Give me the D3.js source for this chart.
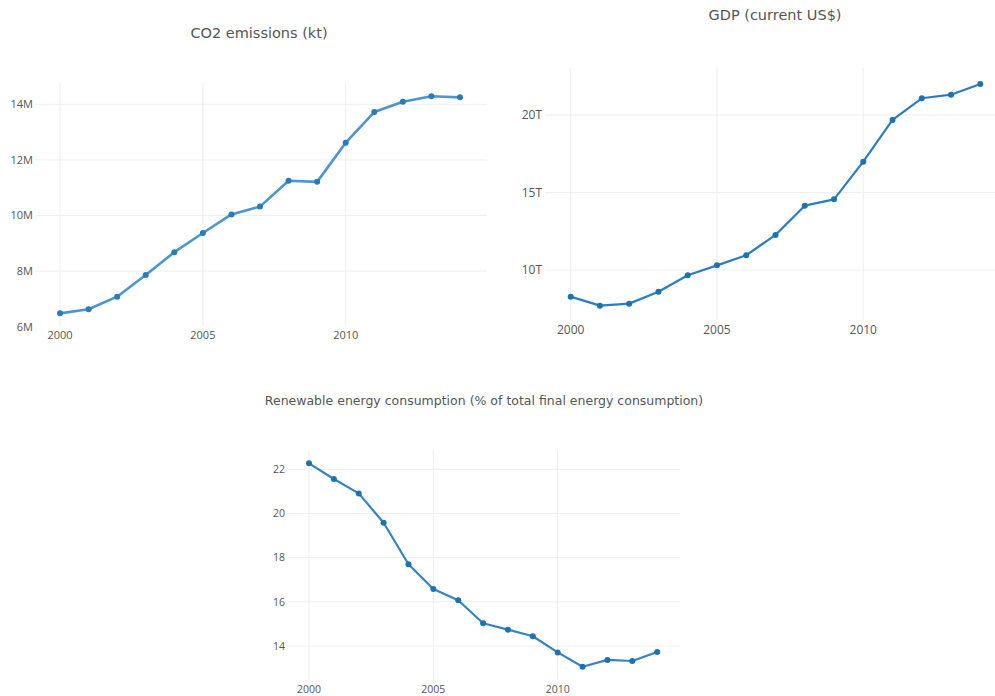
<!DOCTYPE html>
<html>
<head>
<meta charset="utf-8">
<script src="https://cdn.jsdelivr.net/npm/d3@7"></script>
<style>
  html, body { margin: 0; padding: 0; background: #fff; }
  svg { display: block; font-family: "Open Sans", "Noto Sans", sans-serif; }
</style>
</head>
<body>
<svg id="chart" width="995" height="696"></svg>
<script>
// ---- data ----
const years = [2000, 2001, 2002, 2003, 2004, 2005, 2006, 2007, 2008, 2009, 2010, 2011, 2012, 2013, 2014];
const co2Values = [6.48e6, 6.63e6, 7.08e6, 7.86e6, 8.68e6, 9.37e6, 10.04e6, 10.32e6, 11.25e6, 11.21e6, 12.62e6, 13.72e6, 14.09e6, 14.29e6, 14.25e6];
const gdpValues = [8.28e12, 7.70e12, 7.83e12, 8.60e12, 9.66e12, 10.30e12, 10.95e12, 12.26e12, 14.15e12, 14.56e12, 16.99e12, 19.68e12, 21.08e12, 21.31e12, 22.00e12];
const renewableValues = [22.27, 21.56, 20.91, 19.58, 17.70, 16.58, 16.07, 15.03, 14.74, 14.44, 13.71, 13.06, 13.37, 13.32, 13.73];
const xTicks = [2000, 2005, 2010];
const co2Ticks = [6e6, 8e6, 10e6, 12e6, 14e6];
const co2TickLabels = ["6M", "8M", "10M", "12M", "14M"];
const gdpTicks = [10e12, 15e12, 20e12];
const gdpTickLabels = ["10T", "15T", "20T"];
const renewableTicks = [14, 16, 18, 20, 22];
const renewableTickLabels = ["14", "16", "18", "20", "22"];
const titles = ["CO2 emissions (kt)", "GDP (current US$)", "Renewable energy consumption (% of total final energy consumption)"];

const svg = d3.select("#chart");

const panels = [
  {
    title: titles[0], values: co2Values, ticks: co2Ticks, tickLabels: co2TickLabels,
    box: {left: 36, right: 487, top: 83, bottom: 326},
    xRange: [60, 460], yDomain: [6e6, 14e6], yRange: [326.7, 104.3],
    titleX: 259, titleY: 33, titleSize: 14.5, tickSize: 11, xLabelY: 335,
    lineColor: "#4d95cd", lineWidth: 2.6, markerColor: "#2a7bb9"
  },
  {
    title: titles[1], values: gdpValues, ticks: gdpTicks, tickLabels: gdpTickLabels,
    box: {left: 545, right: 1005, top: 68, bottom: 320},
    xRange: [570.7, 980.3], yDomain: [10e12, 20e12], yRange: [270, 115],
    titleX: 775, titleY: 15, titleSize: 14.5, tickSize: 12, xLabelY: 330,
    lineColor: "#2c7dbe", lineWidth: 2.2, markerColor: "#1f72b0"
  },
  {
    title: titles[2], values: renewableValues, ticks: renewableTicks, tickLabels: renewableTickLabels,
    box: {left: 288, right: 680, top: 450, bottom: 680},
    xRange: [309, 657.2], yDomain: [14, 22], yRange: [646, 469.3],
    titleX: 484, titleY: 401, titleSize: 12.5, tickSize: 10.5, xLabelY: 689,
    lineColor: "#3583c2", lineWidth: 2.2, markerColor: "#1f72b0"
  }
];

panels.forEach(p => {
  const x = d3.scaleLinear().domain([years[0], years[years.length - 1]]).range(p.xRange);
  const y = d3.scaleLinear().domain(p.yDomain).range(p.yRange);
  const g = svg.append("g");

  // horizontal grid
  g.selectAll(".hgrid").data(p.ticks.filter(t => y(t) >= p.box.top && y(t) <= p.box.bottom - 1))
    .enter().append("line")
    .attr("x1", p.box.left).attr("x2", p.box.right)
    .attr("y1", d => y(d)).attr("y2", d => y(d))
    .attr("stroke", "#eeeeee").attr("stroke-width", 1);

  // vertical grid
  g.selectAll(".vgrid").data(xTicks).enter().append("line")
    .attr("x1", d => x(d)).attr("x2", d => x(d))
    .attr("y1", p.box.top).attr("y2", p.box.bottom)
    .attr("stroke", "#eeeeee").attr("stroke-width", 1);

  // y tick labels
  g.selectAll(".ylab").data(p.ticks).enter().append("text")
    .attr("x", p.box.left - 3).attr("y", d => y(d))
    .attr("dy", "0.35em").attr("text-anchor", "end")
    .attr("font-size", p.tickSize).attr("fill", "#555")
    .text((d, i) => p.tickLabels[i]);

  // x tick labels
  g.selectAll(".xlab").data(xTicks).enter().append("text")
    .attr("x", d => x(d)).attr("y", p.xLabelY)
    .attr("dy", "0.35em").attr("text-anchor", "middle")
    .attr("font-size", p.tickSize).attr("fill", "#555")
    .text(d => d);

  // title
  g.append("text")
    .attr("x", p.titleX).attr("y", p.titleY).attr("dy", "0.35em")
    .attr("text-anchor", "middle").attr("font-size", p.titleSize).attr("fill", "#555")
    .attr("font-family", "'DejaVu Sans', Verdana, sans-serif")
    .text(p.title);

  const pts = years.map((yr, i) => [yr, p.values[i]]);
  const line = d3.line().x(d => x(d[0])).y(d => y(d[1]));
  g.append("path").datum(pts)
    .attr("d", line).attr("fill", "none")
    .attr("stroke", p.lineColor).attr("stroke-width", p.lineWidth)
    .attr("stroke-linejoin", "round");

  g.selectAll(".pt").data(pts).enter().append("circle")
    .attr("cx", d => x(d[0])).attr("cy", d => y(d[1]))
    .attr("r", 3).attr("fill", p.markerColor);
});
</script>
</body>
</html>
